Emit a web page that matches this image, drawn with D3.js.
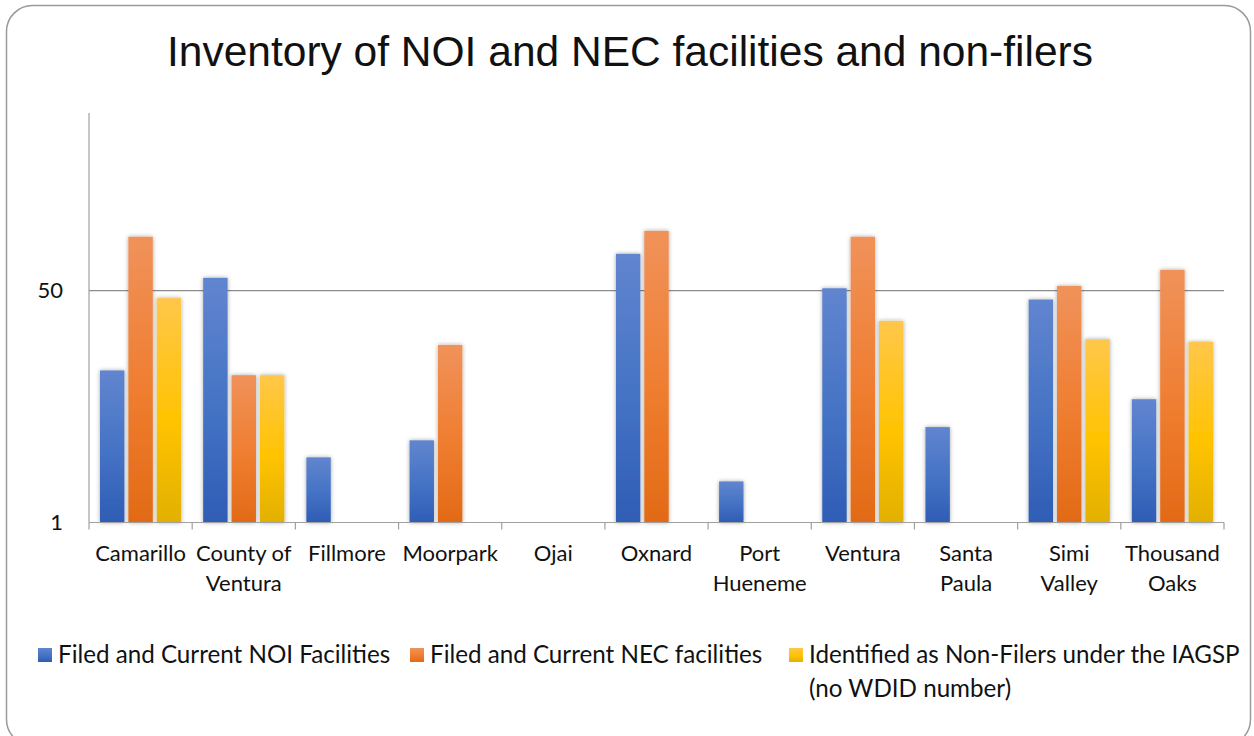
<!DOCTYPE html>
<html>
<head>
<meta charset="utf-8">
<script src="https://cdn.jsdelivr.net/npm/d3@7"></script>
<style>
  html, body { margin: 0; padding: 0; background: #fff; }
  svg { display: block; }
</style>
</head>
<body>
<svg id="chart" width="1254" height="736"></svg>
<script>
const categories = [
  ["Camarillo"], ["County of", "Ventura"], ["Fillmore"], ["Moorpark"], ["Ojai"],
  ["Oxnard"], ["Port", "Hueneme"], ["Ventura"], ["Santa", "Paula"], ["Simi", "Valley"], ["Thousand", "Oaks"]
];
const seriesNames = [
  "Filed and Current NOI Facilities",
  "Filed and Current NEC facilities",
  ["Identified as Non-Filers under the IAGSP", "(no WDID number)"]
];
const noiValues     = [13, 62, 3, 4, null, 93, 2, 52, 5, 43, 8];
const necValues     = [124, 12, null, 20, null, 137, null, 124, null, 54, 71];
const nonFilerValues= [44, 12, null, null, null, null, null, 30, null, 22, 21];
const tickValues = [1, 50];

(function () {
const series = [noiValues, necValues, nonFilerValues];
const svg = d3.select("#chart");
const defs = svg.append("defs");

const grads = [
  ["gBlue",   ["#6185CF", "#4472C4", "#2F5DB5"]],
  ["gOrange", ["#F0925A", "#EF7D2F", "#E26A16"]],
  ["gYellow", ["#FFC74A", "#FFC300", "#E2B000"]]
];
grads.forEach(([id, cols]) => {
  const g = defs.append("linearGradient").attr("id", id).attr("x1", 0).attr("y1", 0).attr("x2", 0).attr("y2", 1);
  g.append("stop").attr("offset", "0%").attr("stop-color", cols[0]);
  g.append("stop").attr("offset", "55%").attr("stop-color", cols[1]);
  g.append("stop").attr("offset", "100%").attr("stop-color", cols[2]);
});
const f = defs.append("filter").attr("id", "shadow").attr("x", "-30%").attr("y", "-10%").attr("width", "160%").attr("height", "120%");
f.append("feDropShadow").attr("dx", 0).attr("dy", 0).attr("stdDeviation", 2.2).attr("flood-color", "#000").attr("flood-opacity", 0.35);

svg.append("rect").attr("x", 6.5).attr("y", 5.5).attr("width", 1244).attr("height", 740)
  .attr("rx", 26).attr("ry", 26).attr("fill", "none").attr("stroke", "#9a9a9a").attr("stroke-width", 1.5);

svg.append("text").attr("x", 630).attr("y", 66).attr("text-anchor", "middle")
  .attr("font-family", "Liberation Sans, Arial, sans-serif").attr("font-size", 42.5).attr("fill", "#111")
  .text("Inventory of NOI and NEC facilities and non-filers");

const pLeft = 89, pRight = 1224, pTop = 113, pBottom = 522.5;
const x = d3.scaleBand().domain(d3.range(categories.length)).range([pLeft, pRight]).padding(0);
const xs = d3.scaleBand().domain([0, 1, 2]).range([11, x.bandwidth() - 11]).paddingInner(0.14).paddingOuter(0);
const y = d3.scaleLog().domain([1, 1000]).range([pBottom, pTop]);

svg.append("g").selectAll("line").data(tickValues.filter(v => v !== 1)).join("line")
  .attr("x1", pLeft).attr("x2", pRight).attr("y1", d => y(d)).attr("y2", d => y(d))
  .attr("stroke", "#8c8c8c").attr("stroke-width", 1.2);

const gradIds = ["gBlue", "gOrange", "gYellow"];
series.forEach((vals, si) => {
  svg.append("g").selectAll("rect").data(vals.map((v, i) => ({v, i})).filter(d => d.v != null)).join("rect")
    .attr("x", d => x(d.i) + xs(si))
    .attr("width", xs.bandwidth())
    .attr("y", d => y(d.v))
    .attr("height", d => pBottom - y(d.v))
    .attr("fill", `url(#${gradIds[si]})`)
    .attr("filter", "url(#shadow)");
});

const yAxis = d3.axisLeft(y).tickValues(tickValues).tickFormat(d3.format("d")).tickSize(0).tickPadding(26);
const ya = svg.append("g").attr("transform", `translate(${pLeft},0)`).call(yAxis);
ya.select(".domain").attr("stroke", "#a0a0a0").attr("stroke-width", 1.2).attr("d", `M0,${pTop}V${pBottom}`);
ya.selectAll("text").attr("font-family", "Lato, Carlito, Calibri, sans-serif").attr("font-size", 22).attr("fill", "#111");

const xa = svg.append("g").attr("transform", `translate(0,${pBottom})`);
xa.append("line").attr("x1", pLeft).attr("x2", pRight).attr("stroke", "#a0a0a0").attr("stroke-width", 1.2);
xa.selectAll(".tk").data(d3.range(categories.length + 1)).join("line").attr("class", "tk")
  .attr("x1", i => pLeft + i * x.step()).attr("x2", i => pLeft + i * x.step())
  .attr("y1", 0).attr("y2", 7).attr("stroke", "#a0a0a0").attr("stroke-width", 1.2);
const lbl = xa.selectAll(".lbl").data(categories).join("text").attr("class", "lbl")
  .attr("text-anchor", "middle")
  .attr("font-family", "Lato, Carlito, Calibri, sans-serif").attr("font-size", 22).attr("fill", "#111");
lbl.each(function(d, i) {
  const t = d3.select(this);
  d.forEach((line, li) => {
    t.append("tspan").attr("x", x(i) + x.bandwidth() / 2).attr("y", 38.5 + li * 29.5).text(line);
  });
});

const legendItems = [
  {sx: 38, tx: 58, grad: "gBlue", lines: [seriesNames[0]]},
  {sx: 410, tx: 430, grad: "gOrange", lines: [seriesNames[1]]},
  {sx: 789, tx: 809, grad: "gYellow", lines: seriesNames[2]}
];
const lg = svg.append("g").selectAll("g").data(legendItems).join("g");
lg.append("rect").attr("x", d => d.sx).attr("y", 648).attr("width", 14).attr("height", 14)
  .attr("fill", d => `url(#${d.grad})`);
lg.append("text").attr("font-family", "Lato, Carlito, Calibri, sans-serif").attr("font-size", 24.2).attr("fill", "#111")
  .each(function(d) {
    const t = d3.select(this);
    d.lines.forEach((line, li) => t.append("tspan").attr("x", d.tx).attr("y", 663 + li * 34).text(line));
  });
})();
</script>
</body>
</html>
